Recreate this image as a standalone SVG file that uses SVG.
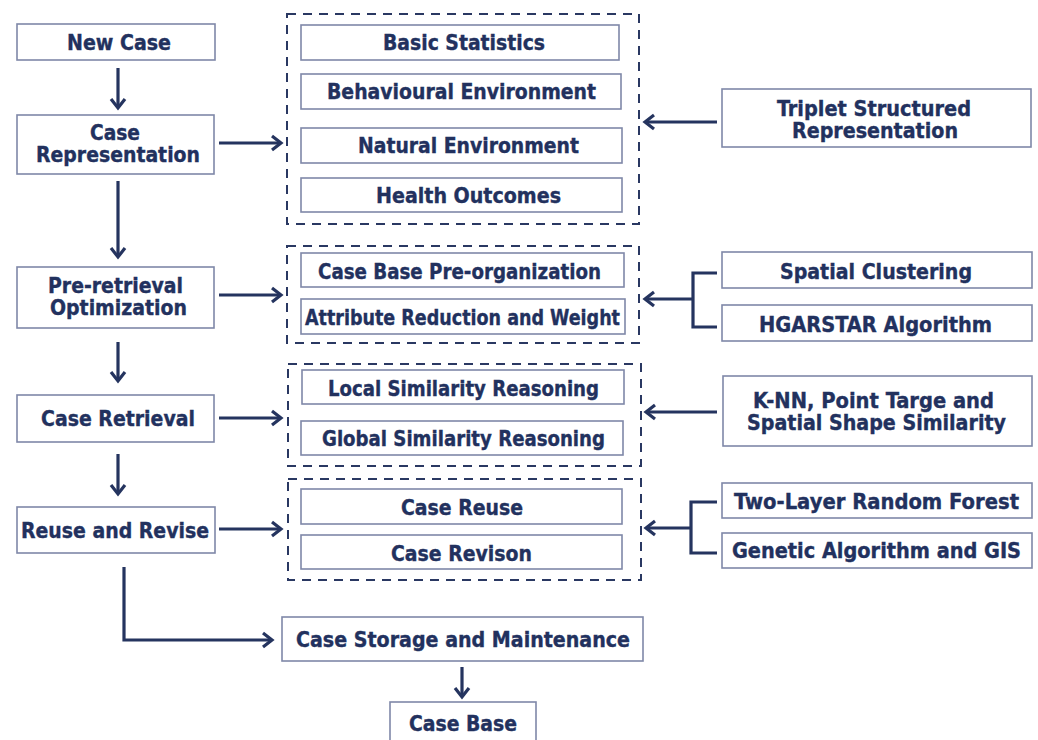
<svg xmlns="http://www.w3.org/2000/svg" width="1038" height="740" viewBox="0 0 1038 740">
<style>
  .box{fill:#ffffff;stroke:#7f88a8;stroke-width:1.6}
  .grp{fill:none;stroke:#2a3862;stroke-width:2;stroke-dasharray:9 7}
  .t{font-family:"DejaVu Sans Condensed","DejaVu Sans",Verdana,sans-serif;font-weight:bold;font-size:21px;fill:#22315e;stroke:#22315e;stroke-width:0.35;text-anchor:middle}
  .c{fill:none;stroke:#25345f;stroke-width:3.2}
</style>
<defs>
  <marker id="ah" markerUnits="userSpaceOnUse" markerWidth="20" markerHeight="20" refX="0" refY="0" viewBox="-12 -10 14 20" orient="auto" overflow="visible">
    <path d="M-9,-7 L0,0 L-9,7" fill="none" stroke="#25345f" stroke-width="3.2"/>
  </marker>
</defs>
<rect width="1038" height="740" fill="#ffffff"/>

<g id="group-representation"><rect class="grp" x="287" y="14" width="352" height="210"/></g>
<g id="group-preretrieval"><rect class="grp" x="287" y="246" width="352" height="97"/></g>
<g id="group-retrieval"><rect class="grp" x="288" y="364" width="353" height="102"/></g>
<g id="group-reuse"><rect class="grp" x="288" y="479" width="353" height="101"/></g>

<g id="new-case"><rect class="box" x="17" y="24" width="198" height="36"/><text class="t" x="119" y="50" textLength="104" lengthAdjust="spacingAndGlyphs">New Case</text></g>
<g id="case-representation"><rect class="box" x="17" y="115" width="197" height="59"/><text class="t" x="115" y="140" textLength="50" lengthAdjust="spacingAndGlyphs">Case</text><text class="t" x="118" y="162" textLength="164" lengthAdjust="spacingAndGlyphs">Representation</text></g>
<g id="pre-retrieval"><rect class="box" x="17" y="267" width="197" height="61"/><text class="t" x="115.5" y="293" textLength="135" lengthAdjust="spacingAndGlyphs">Pre-retrieval</text><text class="t" x="118.5" y="315" textLength="137" lengthAdjust="spacingAndGlyphs">Optimization</text></g>
<g id="case-retrieval"><rect class="box" x="17" y="395" width="197" height="47"/><text class="t" x="118" y="426" textLength="154" lengthAdjust="spacingAndGlyphs">Case Retrieval</text></g>
<g id="reuse-revise"><rect class="box" x="17" y="507" width="198" height="46"/><text class="t" x="115" y="538" textLength="188" lengthAdjust="spacingAndGlyphs">Reuse and Revise</text></g>

<g id="basic-statistics"><rect class="box" x="301" y="25" width="318" height="35"/><text class="t" x="464" y="50" textLength="162" lengthAdjust="spacingAndGlyphs">Basic Statistics</text></g>
<g id="behavioural-environment"><rect class="box" x="301" y="74" width="320" height="35"/><text class="t" x="461.5" y="99" textLength="269" lengthAdjust="spacingAndGlyphs">Behavioural Environment</text></g>
<g id="natural-environment"><rect class="box" x="301" y="128" width="321" height="35"/><text class="t" x="468.5" y="153" textLength="221" lengthAdjust="spacingAndGlyphs">Natural Environment</text></g>
<g id="health-outcomes"><rect class="box" x="301" y="178" width="321" height="34"/><text class="t" x="468.5" y="203" textLength="185" lengthAdjust="spacingAndGlyphs">Health Outcomes</text></g>

<g id="case-base-preorg"><rect class="box" x="301" y="253" width="323" height="34"/><text class="t" x="459.5" y="279" textLength="283" lengthAdjust="spacingAndGlyphs">Case Base Pre-organization</text></g>
<g id="attribute-reduction"><rect class="box" x="301" y="299" width="324" height="35"/><text class="t" x="462.5" y="325" textLength="315" lengthAdjust="spacingAndGlyphs">Attribute Reduction and Weight</text></g>

<g id="local-similarity"><rect class="box" x="302" y="370" width="322" height="34"/><text class="t" x="463.5" y="396" textLength="271" lengthAdjust="spacingAndGlyphs">Local Similarity Reasoning</text></g>
<g id="global-similarity"><rect class="box" x="301" y="421" width="322" height="34"/><text class="t" x="463.5" y="446" textLength="283" lengthAdjust="spacingAndGlyphs">Global Similarity Reasoning</text></g>

<g id="case-reuse"><rect class="box" x="301" y="489" width="321" height="35"/><text class="t" x="462" y="515" textLength="122" lengthAdjust="spacingAndGlyphs">Case Reuse</text></g>
<g id="case-revison"><rect class="box" x="301" y="535" width="321" height="34"/><text class="t" x="461.5" y="561" textLength="141" lengthAdjust="spacingAndGlyphs">Case Revison</text></g>

<g id="case-storage"><rect class="box" x="282" y="617" width="361" height="44"/><text class="t" x="463" y="647" textLength="334" lengthAdjust="spacingAndGlyphs">Case Storage and Maintenance</text></g>
<g id="case-base"><rect class="box" x="390" y="702" width="146" height="50"/><text class="t" x="463" y="731" textLength="108" lengthAdjust="spacingAndGlyphs">Case Base</text></g>

<g id="triplet"><rect class="box" x="722" y="89" width="309" height="58"/><text class="t" x="874" y="116" textLength="194" lengthAdjust="spacingAndGlyphs">Triplet Structured</text><text class="t" x="875" y="138" textLength="166" lengthAdjust="spacingAndGlyphs">Representation</text></g>
<g id="spatial-clustering"><rect class="box" x="722" y="252" width="310" height="36"/><text class="t" x="876" y="279" textLength="192" lengthAdjust="spacingAndGlyphs">Spatial Clustering</text></g>
<g id="hgarstar"><rect class="box" x="722" y="305" width="310" height="36"/><text class="t" x="875.5" y="332" textLength="233" lengthAdjust="spacingAndGlyphs">HGARSTAR Algorithm</text></g>
<g id="knn"><rect class="box" x="723" y="376" width="309" height="70"/><text class="t" x="873.5" y="408" textLength="241" lengthAdjust="spacingAndGlyphs">K-NN, Point Targe and</text><text class="t" x="876.5" y="430" textLength="259" lengthAdjust="spacingAndGlyphs">Spatial Shape Similarity</text></g>
<g id="two-layer-rf"><rect class="box" x="722" y="483" width="310" height="35"/><text class="t" x="876.5" y="509" textLength="285" lengthAdjust="spacingAndGlyphs">Two-Layer Random Forest</text></g>
<g id="genetic-gis"><rect class="box" x="722" y="533" width="310" height="35"/><text class="t" x="876.5" y="558" textLength="289" lengthAdjust="spacingAndGlyphs">Genetic Algorithm and GIS</text></g>

<g id="connectors">
  <path class="c" d="M118,68 V108" marker-end="url(#ah)"/>
  <path class="c" d="M118,181 V257" marker-end="url(#ah)"/>
  <path class="c" d="M118,342 V381" marker-end="url(#ah)"/>
  <path class="c" d="M118,454 V494" marker-end="url(#ah)"/>
  <path class="c" d="M124,567 V640 H272" marker-end="url(#ah)"/>
  <path class="c" d="M462,667 V697" marker-end="url(#ah)"/>
  <path class="c" d="M219,143 H281" marker-end="url(#ah)"/>
  <path class="c" d="M219,295 H281" marker-end="url(#ah)"/>
  <path class="c" d="M219,418 H281" marker-end="url(#ah)"/>
  <path class="c" d="M219,529 H281" marker-end="url(#ah)"/>
  <path class="c" d="M717,122 H645" marker-end="url(#ah)"/>
  <path class="c" d="M717,273 H693 V327 H717"/>
  <path class="c" d="M693,299 H645" marker-end="url(#ah)"/>
  <path class="c" d="M717,412 H646" marker-end="url(#ah)"/>
  <path class="c" d="M717,502 H691 V553 H717"/>
  <path class="c" d="M691,528 H646" marker-end="url(#ah)"/>
</g>
</svg>
